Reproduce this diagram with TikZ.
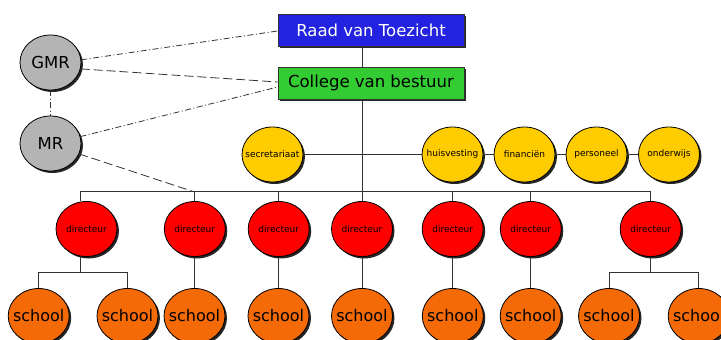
\documentclass[tikz,border=0pt]{standalone}
\usepackage{fontspec}
\setmainfont{DejaVu Sans}
\usetikzlibrary{shapes.geometric,shadows,calc}
\definecolor{raadblue}{RGB}{34,34,224}
\definecolor{cvbgreen}{RGB}{51,204,51}
\definecolor{gmrgray}{RGB}{180,180,180}
\definecolor{staffyellow}{RGB}{255,204,0}
\definecolor{schoolorange}{RGB}{244,106,6}
\definecolor{linegray}{RGB}{50,50,50}
\newcommand{\zb}[1]{\makebox[0pt][c]{#1}}
\begin{document}
\begin{tikzpicture}[x=1pt,y=-1pt,
  shad/.style={drop shadow={shadow xshift=2pt,shadow yshift=-2pt,opacity=1,fill=black!85}},
  box/.style={draw=black!80,line width=0.8pt,minimum width=186pt,minimum height=32pt,inner sep=0pt,shad,font=\fontsize{16.5}{18}\selectfont},
  oval/.style={ellipse,draw=black,line width=0.8pt,minimum width=61pt,minimum height=55pt,inner sep=0pt,shad},
  mrnode/.style={oval,fill=gmrgray,font=\fontsize{16.5}{18}\selectfont},
  staffnode/.style={oval,fill=staffyellow,font=\fontsize{9}{10}\selectfont},
  dirnode/.style={oval,fill=red,font=\fontsize{9}{10}\selectfont},
  schoolnode/.style={oval,fill=schoolorange,font=\fontsize{16}{18}\selectfont},
  conn/.style={draw=linegray,line width=0.8pt},
  dd/.style={draw=linegray,line width=0.8pt,dash pattern=on 6pt off 2.5pt on 1pt off 2.5pt},
  ds/.style={draw=linegray,line width=0.8pt,dash pattern=on 9pt off 4pt}]
\useasboundingbox (0,0) rectangle (721,340);

% top boxes
\node[box,fill=raadblue,text=white] (raad) at (371,30) {Raad van Toezicht};
\node[box,fill=cvbgreen] (cvb) at (371,83) {College van bestuur};

% participation councils
\node[mrnode] (gmr) at (50.5,62.5) {\zb{GMR}};
\node[mrnode] (mr) at (50.5,143.5) {\zb{MR}};

% staff
\node[staffnode] (sec) at (272.5,154.5) {\zb{secretariaat}};
\node[staffnode] (huis) at (452.5,154.5) {\zb{huisvesting}};
\node[staffnode] (fin) at (524.5,154.5) {\zb{financiën}};
\node[staffnode] (pers) at (596.5,154.5) {\zb{personeel}};
\node[staffnode] (ond) at (669,154.5) {\zb{onderwijs}};

% directors
\node[dirnode] (d1) at (86.5,229) {\zb{directeur}};
\node[dirnode] (d2) at (194.8,229) {\zb{directeur}};
\node[dirnode] (d3) at (278.7,229) {\zb{directeur}};
\node[dirnode] (d4) at (362,229) {\zb{directeur}};
\node[dirnode] (d5) at (452.7,229) {\zb{directeur}};
\node[dirnode] (d6) at (530.8,229) {\zb{directeur}};
\node[dirnode] (d7) at (650.7,229) {\zb{directeur}};

% schools
\node[schoolnode] (s1) at (38.7,316) {\zb{school}};
\node[schoolnode] (s2) at (127.5,316) {\zb{school}};
\node[schoolnode] (s3) at (194.5,316) {\zb{school}};
\node[schoolnode] (s4) at (278.5,316) {\zb{school}};
\node[schoolnode] (s5) at (362,316) {\zb{school}};
\node[schoolnode] (s6) at (452.8,316) {\zb{school}};
\node[schoolnode] (s7) at (530.7,316) {\zb{school}};
\node[schoolnode] (s8) at (609,316) {\zb{school}};
\node[schoolnode] (s9) at (698.7,316) {\zb{school}};

% trunk
\coordinate (j) at ($(cvb.south)+(-9,92)$);
\draw[conn] ($(raad.south)+(-9,0)$) -- ($(cvb.north)+(-9,0)$);
\draw[conn] ($(cvb.south)+(-9,0)$) -- (j);
\draw[conn] (sec) -- (huis) -- (fin) -- (pers) -- (ond);

% director bar
\draw[conn] ($(d1.north)+(-6.5,0)$) |- (j) -| (d7.north);
\foreach \d in {d2,d3,d4,d5,d6}{
  \draw[conn] (\d.north) -- (\d.north |- j);
}

% school connectors
\coordinate (b1) at ($(d1.south)+(-6.5,15.5)$);
\draw[conn] ($(d1.south)+(-6.5,0)$) -- (b1);
\draw[conn] (s1.north) |- (b1) -| (s2.north);
\coordinate (b7) at ($(d7.south)+(0,15.5)$);
\draw[conn] (d7.south) -- (b7);
\draw[conn] (s8.north) |- (b7) -| (s9.north);
\draw[conn] (d2.south) -- (d2.south |- s3.north);
\draw[conn] (d3.south) -- (d3.south |- s4.north);
\draw[conn] (d4.south) -- (d4.south |- s5.north);
\draw[conn] (d5.south) -- (d5.south |- s6.north);
\draw[conn] (d6.south) -- (d6.south |- s7.north);

% council links
\draw[dd] (gmr.5) -- ($(raad.west)+(0,1)$);
\draw[ds] (gmr.-12) -- ($(cvb.west)+(0,-1)$);
\draw[dd] (mr.13) -- ($(cvb.west)+(0,4)$);
\draw[ds] (mr.-20) -- ($(d2.north |- j)+(-2,0)$);
\draw[dd] (gmr) -- (mr);
\end{tikzpicture}
\end{document}
